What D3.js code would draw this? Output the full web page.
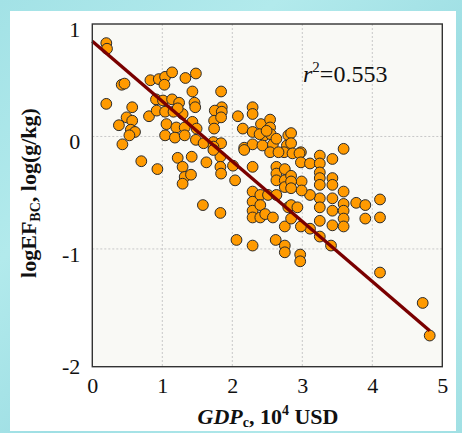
<!DOCTYPE html>
<html>
<head>
<meta charset="utf-8">
<script src="https://cdn.jsdelivr.net/npm/d3@7/dist/d3.min.js"></script>
<style>
  html, body { margin: 0; padding: 0; background: #a7e4e7; }
  svg { display: block; }
</style>
</head>
<body>
<svg id="chart" width="462" height="433"></svg>
<script>
// GDP per capita (10^4 USD) for each sample
const gdp = [
  0.20, 0.21, 0.42, 0.46, 0.20, 0.57, 0.49, 0.38, 0.57, 0.55, 0.61, 0.53, 0.43, 0.70, 0.93,
  0.83, 0.95, 1.04, 1.14, 1.03, 1.33, 1.48, 0.91, 1.01, 1.14, 1.24, 1.43, 1.46, 1.47, 0.81,
  0.92, 1.04, 1.16, 1.29, 1.22, 1.06, 1.20, 1.32, 1.43, 1.49, 1.04, 1.18, 1.32, 1.48, 1.59,
  1.73, 1.84, 1.73, 1.84, 1.85, 1.75, 1.85, 1.74, 1.74, 1.84, 1.22, 1.42, 1.29, 1.32, 1.29,
  1.41, 1.63, 1.83, 1.83, 1.84, 1.73, 2.01, 2.04, 1.58, 1.83, 2.06,
  2.08, 2.15, 2.29, 2.29, 2.29, 2.41, 2.54, 2.54, 2.46, 2.39, 2.55, 2.17, 2.29, 2.43, 2.58,
  2.63, 2.80, 2.78, 2.84, 2.84, 2.74, 2.86, 2.98, 2.17, 2.29, 2.54, 2.66, 2.63, 2.63, 2.63,
  2.75, 2.75, 2.75, 2.29, 2.29, 2.29, 2.29, 2.40, 2.40, 2.40, 2.47, 2.58, 2.51, 2.63, 2.80,
  2.75, 2.29, 2.62, 2.75, 2.75, 2.49,
  2.96, 2.98, 3.11, 3.25, 3.25, 3.25, 3.25, 3.25, 3.43, 3.43, 3.43, 3.43, 3.43, 3.43, 3.59,
  3.59, 3.59, 3.59, 3.59, 3.59, 3.77, 3.90, 3.90, 4.11, 4.11, 4.11, 3.25, 3.25, 3.25, 3.11,
  3.11, 3.25, 3.41, 2.98, 2.97, 2.97, 2.84, 2.84, 2.93, 2.99, 2.99, 2.84, 2.84, 2.84,
  4.72, 4.82
];

// log of the BC emission factor, log(g/kg), same order as gdp
const logEF = [
  0.83, 0.78, 0.46, 0.47, 0.29, 0.26, 0.17, 0.10, 0.14, 0.06, 0.04, 0.01, -0.07, -0.22, -0.29,
  0.50, 0.51, 0.53, 0.57, 0.46, 0.52, 0.56, 0.33, 0.32, 0.33, 0.30, 0.40, 0.30, 0.26, 0.18,
  0.23, 0.22, 0.22, 0.20, 0.25, 0.11, 0.08, 0.08, 0.13, 0.07, 0.01, -0.01, 0.01, -0.03, -0.06,
  -0.05, -0.06, -0.09, 0.40, 0.26, 0.23, 0.22, 0.14, 0.07, 0.17, -0.19, -0.18, -0.27, -0.36, -0.42,
  -0.34, -0.23, -0.18, -0.27, -0.33, -0.12, -0.26, -0.39, -0.61, -0.68, -0.92,
  0.18, 0.07, 0.26, 0.20, 0.04, 0.11, 0.15, 0.08, 0.01, 0.02, 0.02, -0.10, -0.07, -0.08, -0.07,
  -0.02, 0.01, -0.08, 0.03, -0.06, -0.14, -0.15, -0.14, -0.12, -0.27, -0.14, -0.14, -0.27, -0.33, -0.39,
  -0.29, -0.39, -0.45, -0.49, -0.58, -0.66, -0.72, -0.52, -0.61, -0.72, -0.69, -0.72, -0.52, -0.52, -0.63,
  -0.80, -0.97, -0.92, -0.97, -1.03, 0.05,
  -0.15, -0.23, -0.24, -0.17, -0.24, -0.32, -0.37, -0.43, -0.20, -0.37, -0.43, -0.55, -0.66, -0.79, -0.11,
  -0.49, -0.60, -0.66, -0.73, -0.80, -0.59, -0.61, -0.73, -0.56, -0.72, -1.21, -0.55, -0.63, -0.75, -0.52,
  -0.82, -0.89, -0.97, -0.80, -1.05, -1.11, -0.61, -0.73, -0.63, -0.40, -0.48, -0.35, -0.40, -0.46,
  -1.48, -1.77
];

// axis ticks
const xTicks = [0, 1, 2, 3, 4, 5];
const yTicks = [1, 0, -1, -2];
const xGrid = [1, 2, 3, 4];
const yGrid = [0, -1];

// linear fit of logEF on gdp
const fitIntercept = 0.846;
const fitSlope = -0.534;
const fitRange = [0, 4.82];
const r2Value = "0.553";

const svg = d3.select("#chart");
const W = 462, H = 433;

// textured cyan backdrop
const defs = svg.append("defs");
const bg = defs.append("linearGradient").attr("id", "bgGrad")
  .attr("x1", "0").attr("y1", "0").attr("x2", "1").attr("y2", "1");
[["0%", "#a3e2e6"], ["30%", "#b2eaec"], ["55%", "#9fdfe4"], ["80%", "#b0e8ea"], ["100%", "#a1e0e4"]]
  .forEach(([o, c]) => bg.append("stop").attr("offset", o).attr("stop-color", c));
svg.append("rect").attr("width", W).attr("height", H).attr("fill", "url(#bgGrad)");

// white card
svg.append("rect").attr("x", 10).attr("y", 11).attr("width", 446).attr("height", 420).attr("fill", "#ffffff");

const plot = { left: 92.3, right: 442.3, top: 24, bottom: 366.7 };

const x = d3.scaleLinear().domain([0, 5]).range([plot.left, plot.right]);
const y = d3.scaleLinear().domain([-2.047, 1]).range([plot.bottom, plot.top]);

// plot background
svg.append("rect")
  .attr("x", plot.left).attr("y", plot.top)
  .attr("width", plot.right - plot.left).attr("height", plot.bottom - plot.top)
  .attr("fill", "#f9f9f5");

// dashed grid
const grid = svg.append("g").attr("stroke", "#c8c8c8").attr("stroke-width", 1).attr("stroke-dasharray", "2,2");
grid.selectAll("line.gx").data(xGrid).join("line")
  .attr("x1", d => x(d)).attr("x2", d => x(d))
  .attr("y1", plot.top).attr("y2", plot.bottom);
grid.selectAll("line.gy").data(yGrid).join("line")
  .attr("y1", d => y(d)).attr("y2", d => y(d))
  .attr("x1", plot.left).attr("x2", plot.right);

// scatter points
const pts = gdp.map((g, i) => ({ g, e: logEF[i] }));
svg.append("g").selectAll("circle").data(pts).join("circle")
  .attr("cx", d => x(d.g)).attr("cy", d => y(d.e))
  .attr("r", 5.4)
  .attr("fill", "#ff9a00")
  .attr("stroke", "#2a2a2a")
  .attr("stroke-width", 1);

// regression line
const line = d3.line().x(d => x(d)).y(d => y(fitIntercept + fitSlope * d));
svg.append("path").datum(fitRange)
  .attr("d", line)
  .attr("stroke", "#7a0000").attr("stroke-width", 3.4).attr("fill", "none");

// frame
svg.append("rect")
  .attr("x", plot.left).attr("y", plot.top)
  .attr("width", plot.right - plot.left).attr("height", plot.bottom - plot.top)
  .attr("fill", "none").attr("stroke", "#333").attr("stroke-width", 1.4);

const serif = "'Liberation Serif', 'Times New Roman', serif";
const plainNum = d => String(d);

// x axis labels
const xAxis = d3.axisBottom(x).tickValues(xTicks).tickSize(0).tickPadding(11).tickFormat(plainNum);
const gx = svg.append("g").attr("transform", `translate(0,${plot.bottom})`).call(xAxis);
gx.select(".domain").remove();
gx.selectAll("text").attr("font-family", serif).attr("font-size", 22).attr("fill", "#111");

// y axis labels
const yAxis = d3.axisLeft(y).tickValues(yTicks).tickSize(0).tickPadding(12).tickFormat(plainNum);
const gy = svg.append("g").attr("transform", `translate(${plot.left},0)`).call(yAxis);
gy.select(".domain").remove();
gy.selectAll("text").attr("font-family", serif).attr("font-size", 22).attr("fill", "#111").attr("dy", "0.55em");

// y title
const yt = svg.append("text")
  .attr("transform", `translate(36,193) rotate(-90)`)
  .attr("text-anchor", "middle")
  .attr("font-family", serif).attr("font-weight", "bold").attr("font-size", 22).attr("fill", "#111");
yt.append("tspan").text("logEF");
yt.append("tspan").attr("font-size", 14).attr("dy", 4).text("BC");
yt.append("tspan").attr("dy", -4).text(", log(g/kg)");

// x title
const xt = svg.append("text")
  .attr("x", 268).attr("y", 424)
  .attr("text-anchor", "middle")
  .attr("font-family", serif).attr("font-weight", "bold").attr("font-size", 22).attr("fill", "#111");
xt.append("tspan").attr("font-style", "italic").text("GDP");
xt.append("tspan").attr("font-size", 14).attr("dy", 3).text("c");
xt.append("tspan").attr("dy", -3).text(", 10");
xt.append("tspan").attr("font-size", 14).attr("dy", -9).text("4");
xt.append("tspan").attr("dy", 9).text(" USD");

// r-squared annotation
const rt = svg.append("text")
  .attr("x", 303).attr("y", 82)
  .attr("font-family", serif).attr("font-size", 24).attr("fill", "#111");
rt.append("tspan").attr("font-style", "italic").text("r");
rt.append("tspan").attr("font-size", 15).attr("dy", -10).text("2");
rt.append("tspan").attr("dy", 10).text("=" + r2Value);
</script>
</body>
</html>
